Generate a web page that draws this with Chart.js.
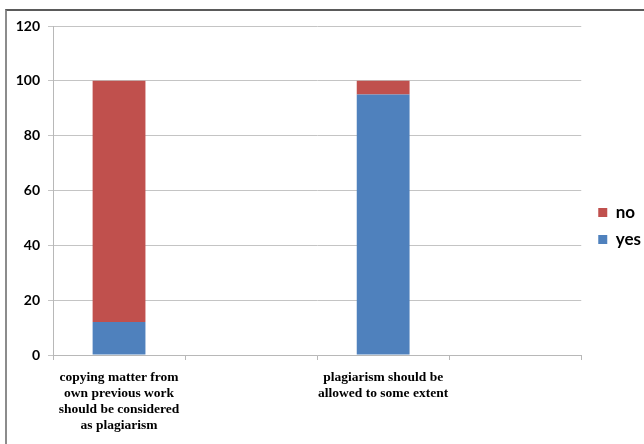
<!DOCTYPE html>
<html>
<head>
<meta charset="utf-8">
<script src="https://cdn.jsdelivr.net/npm/chart.js@4/dist/chart.umd.min.js"></script>
<style>
  html, body { margin: 0; padding: 0; background: #fff; }
  #wrap { position: relative; width: 644px; height: 444px; overflow: hidden; }
  #frame { position: absolute; left: 5px; top: 9px; width: 700px; height: 500px;
           border-top: 2px solid #5a5a5a; border-left: 2px solid #8c8c8c; }
  #c { position: absolute; left: 0; top: 0; }
</style>
</head>
<body>
<div id="wrap">
  <div id="frame"></div>
  <canvas id="c" width="644" height="444"></canvas>
</div>
<script>
// Survey statements (blank slots keep the wide spacing between the two bars)
const categories = [
  ["copying matter from", "own previous work", "should be considered", "as plagiarism"],
  "",
  ["plagiarism should be", "allowed to some extent"],
  ""
];
const yesValues = [12, null, 95, null];
const noValues  = [88, null, 5, null];
const yTicks = [0, 20, 40, 60, 80, 100, 120];

const BLUE = '#4f81bd';
const RED = '#c0504d';

// Nudge the legend block a little up and to the right of its default slot
const legendNudge = {
  id: 'legendNudge',
  afterLayout(chart) {
    const lg = chart.legend;
    if (!lg) return;
    lg.top -= 9; lg.bottom -= 9;
    lg.left += 7; lg.right += 7;
  }
};

new Chart(document.getElementById('c'), {
  type: 'bar',
  data: {
    labels: categories,
    datasets: [
      { label: 'yes', data: yesValues, backgroundColor: BLUE },
      { label: 'no',  data: noValues,  backgroundColor: RED }
    ]
  },
  plugins: [legendNudge],
  options: {
    responsive: false,
    animation: false,
    devicePixelRatio: 1,
    categoryPercentage: 1,
    barPercentage: 0.4,
    layout: { padding: { top: 26, right: 0, bottom: 0, left: 0 } },
    plugins: {
      tooltip: { enabled: false },
      legend: {
        position: 'right',
        reverse: true,
        labels: {
          boxWidth: 9,
          boxHeight: 9,
          padding: 10,
          color: '#000',
          font: { family: 'Lato', size: 17, weight: 'bold' }
        }
      }
    },
    scales: {
      x: {
        stacked: true,
        grid: { drawOnChartArea: false, drawTicks: true, tickLength: 5, color: '#b8b8b8' },
        border: { color: '#b8b8b8' },
        ticks: {
          padding: 9,
          maxRotation: 0,
          autoSkip: false,
          color: '#000',
          font: { family: 'Liberation Serif', size: 13.5, weight: 'bold', lineHeight: 1.2 }
        },
        afterFit: (s) => { s.height = 89; }
      },
      y: {
        stacked: true,
        min: 0,
        max: 120,
        afterBuildTicks: (s) => { s.ticks = yTicks.map(v => ({ value: v })); },
        grid: { color: '#c4c4c4', tickLength: 5 },
        border: { color: '#b8b8b8' },
        ticks: {
          padding: 8,
          color: '#000',
          font: { family: 'Lato', size: 14, weight: 'bold' }
        },
        afterFit: (s) => { s.width = 53; }
      }
    }
  }
});
</script>
</body>
</html>
